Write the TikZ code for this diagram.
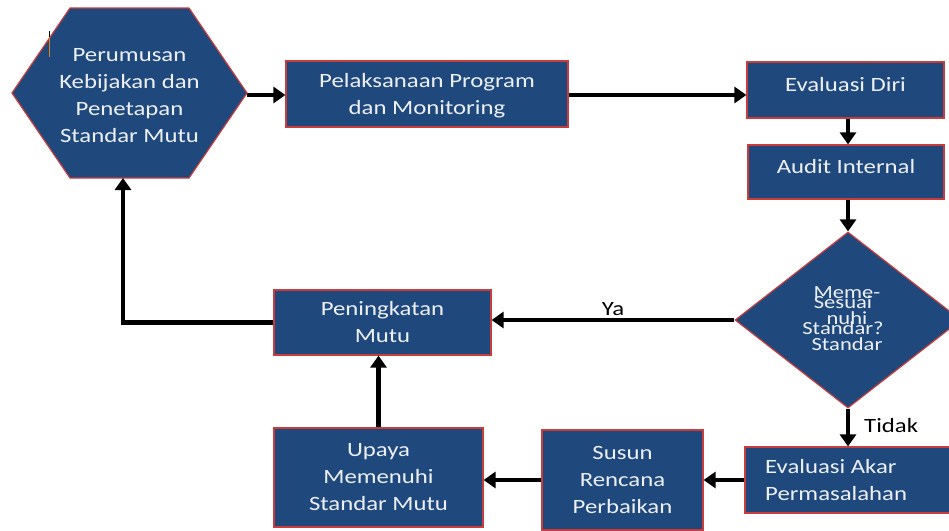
\documentclass[tikz,border=0pt]{standalone}
\usepackage{fontspec}
\setmainfont[FakeStretch=1.22]{Carlito}
\usetikzlibrary{arrows.meta,shapes.geometric}
\definecolor{boxblue}{RGB}{31,73,125}
\definecolor{boxred}{RGB}{200,60,60}
\definecolor{boxtext}{RGB}{238,240,245}
\begin{document}
\begin{tikzpicture}[x=1pt,y=-1pt,
  box/.style={draw=boxred, line width=1.2pt, fill=boxblue, text=boxtext, align=center, inner sep=0pt, font=\fontsize{20.3}{27}\selectfont},
  btext/.style={text=boxtext, align=center, inner sep=0pt, font=\fontsize{20.3}{27}\selectfont},
  dtext/.style={text=boxtext, align=center, inner sep=0pt, font=\fontsize{18.5}{26}\selectfont},
  flow/.style={line width=4.4pt, -{Triangle[width=16pt,length=12pt]}},
  lbl/.style={font=\fontsize{20.3}{24}\selectfont, inner sep=0pt}]
\useasboundingbox (0,0) rectangle (949,530);
\clip (0,0) rectangle (949,530);

% hexagon
\draw[draw=boxred, line width=1.2pt, fill=boxblue] (12,93) -- (70,8) -- (189,8) -- (247,93) -- (189,178) -- (70,178) -- cycle;
\node[btext] (hex) at (129.5,95.5) {Perumusan\\Kebijakan dan\\Penetapan\\Standar Mutu};
\coordinate (hexR) at (247,95);
\coordinate (hexB) at (123,178);
\draw[line width=0.6pt] (49,31) -- (49,39);
\draw[line width=0.8pt, color=orange!60!brown] (49.6,37) -- (49.6,57);

\node[box, minimum width=282pt, minimum height=66pt, text depth=-6pt] (pel) at (427,94) {Pelaksanaan Program\\dan Monitoring};
\node[box, minimum width=197pt, minimum height=56pt, text depth=12pt] (evd) at (845.5,90) {Evaluasi Diri};
\node[box, minimum width=196pt, minimum height=54pt, text depth=12pt] (aud) at (846,172) {Audit Internal};
\node[box, diamond, minimum width=226pt, minimum height=176pt] (dia) at (848,320) {};
\node[dtext] (dt1) at (847,319) {Meme-\\nuhi\\Standar};
\node[dtext] (dt2) at (843,315) {Sesuai\\Standar?};
\node[box, minimum width=217pt, minimum height=65pt] (pen) at (382.5,322.5) {Peningkatan\\Mutu};
\node[box, minimum width=209pt, minimum height=99pt] (upa) at (378.5,477.5) {Upaya\\Memenuhi\\Standar Mutu};
\node[box, minimum width=161pt, minimum height=100pt] (sus) at (622.5,480) {Susun\\Rencana\\Perbaikan};
\node[box, minimum width=215pt, minimum height=66pt] (eva) at (852.5,480) {};
\node[btext, align=left, anchor=west] (evat) at (765,480) {Evaluasi Akar\\Permasalahan};

\draw[flow] (hexR) -- (hexR -| pel.west);
\draw[flow] (pel.east |- hexR) -- (hexR -| evd.west);
\draw[flow] (evd.south -| dia.north) -- (aud.north -| dia.north);
\draw[flow] (aud.south -| dia.north) -- (dia.north);
\draw[flow] (dia.west) -- (dia.west -| pen.east) node[lbl, midway, above=2pt] (ya) {Ya};
\draw[flow] (dia.south) -- (dia.south |- eva.north) node[lbl, pos=0.45, anchor=west, xshift=14pt] (td) {Tidak};
\draw[flow] (eva.west) -- (eva.west -| sus.east);
\draw[flow] (sus.west) -- (sus.west -| upa.east);
\draw[flow] (upa.north) -- (upa.north |- pen.south);
\draw[flow] (pen.west) -| (hexB);
\end{tikzpicture}
\end{document}
